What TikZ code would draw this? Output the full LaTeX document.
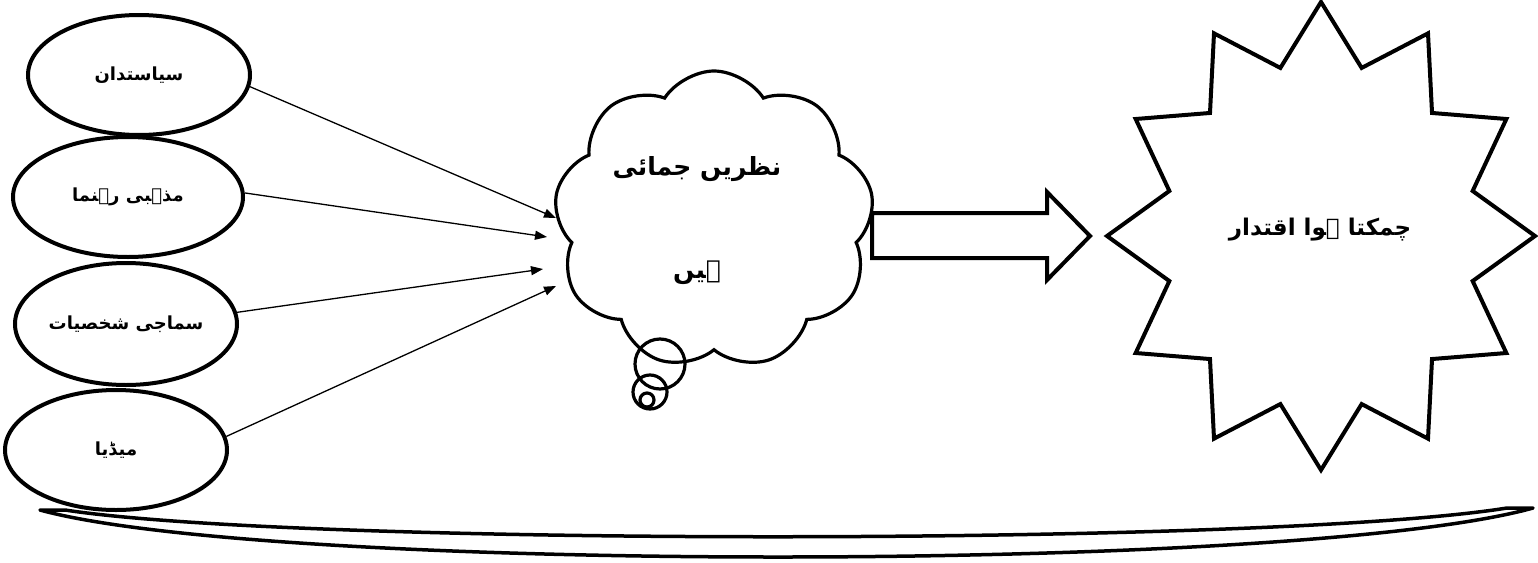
\documentclass[tikz,border=0pt]{standalone}
\usepackage{fontspec}
\TeXXeTstate=1
\newfontfamily\urdu[Script=Arabic]{DejaVu Sans}
\usetikzlibrary{shapes.geometric,shapes.symbols,arrows.meta}
\begin{document}
\begin{tikzpicture}[x=1pt,y=-1pt,
  oval/.style={ellipse,draw,line width=4pt,minimum width=222pt,minimum height=120pt,inner sep=0pt,
    font=\urdu\bfseries\fontsize{18}{22}\selectfont},
  conn/.style={line width=1.3pt,-{Triangle[length=12pt,width=9pt]}},
  thick outline/.style={line width=4pt,line join=miter},
  bubble/.style={circle,draw,line width=3.2pt,inner sep=0pt},
  urdutext/.style={font=\urdu\bfseries\fontsize{#1}{#1}\selectfont,inner sep=0pt}
]
\useasboundingbox (0,0) rectangle (1538,562);

% source ellipses
\node[oval] (e1) at (139,75)  {\beginR سیاستدان\endR};
\node[oval,minimum width=230pt] (e2) at (128,197) {\beginR مذہبی رہنما\endR};
\node[oval,minimum height=122pt] (e3) at (126,324) {\beginR سماجی شخصیات\endR};
\node[oval] (e4) at (116,450) {\beginR میڈیا\endR};

% cloud
\node[cloud,draw,line width=3.2pt,cloud puffs=9,cloud puff arc=115,aspect=1.08,
      minimum width=320pt,minimum height=298pt,inner sep=0pt] (cloud) at (714,220) {};
\node[urdutext=25,align=center] (cloudtext) at (697,221)
  {\beginR نظریں جمائی\endR\\[78pt]\beginR ہیں\endR};
\node[bubble,minimum size=50pt] (b1) at (660,364) {};
\node[bubble,minimum size=34pt] (b2) at (650,392) {};
\node[bubble,minimum size=14pt] (b3) at (647,400) {};

% arrow tips at the cloud
\coordinate (t1) at (556,218);
\coordinate (t2) at (547,237);
\coordinate (t3) at (543,269);
\coordinate (t4) at (556,286);
\draw[conn] (e1.-6) -- (t1);
\draw[conn] (e2.2)  -- (t2);
\draw[conn] (e3.6)  -- (t3);
\draw[conn] (e4.7)  -- (t4);

% block arrow
\draw[thick outline] (872,213) -- (1047,213) -- (1047,192) -- (1090,236)
   -- (1047,280) -- (1047,258) -- (872,258) -- cycle;

% star
\draw[thick outline] (1321,2)
  \foreach \k [evaluate=\k as \rx using {mod(\k,2)==0?214:157},
               evaluate=\k as \ry using {mod(\k,2)==0?234:174}] in {1,...,23}
  { -- ({1321+\rx*cos(90+15*\k)},{236-\ry*sin(90+15*\k)}) } -- cycle;
\node[urdutext=23] (power) at (1320,230) {\beginR چمکتا ہوا اقتدار\endR};

% bottom ribbon
\draw[line width=3.5pt,line join=round] (40,510) .. controls (270,573) and (1300,573) .. (1533,508)
  -- (1507,508) .. controls (1270,546) and (300,546) .. (65,510) -- cycle;
\end{tikzpicture}
\end{document}
